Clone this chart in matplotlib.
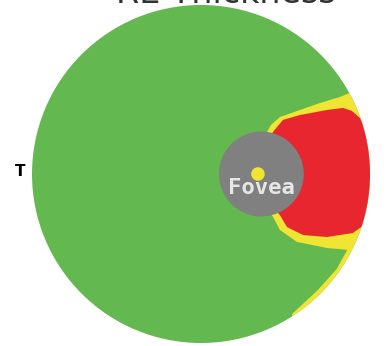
import numpy as np
import matplotlib
matplotlib.use("Agg")
import matplotlib.pyplot as plt
from matplotlib.patches import Circle, Polygon

# Map coordinates: scan circle has radius 1, centred on (0, 0)
scan_radius = 1.0
fovea_center = (0.357, 0.0)
fovea_radius = 0.251
fovea_dot = (0.337, 0.0)

# Thick zone (red) outline
red_x = [0.396, 0.426, 0.485, 0.586, 0.746, 0.840, 0.893, 0.941, 0.970, 1.012,
         1.2, 1.2,
         1.012, 0.982, 0.899, 0.746, 0.604, 0.509, 0.467, 0.408]
red_y = [0.201, 0.249, 0.320, 0.349, 0.379, 0.391, 0.373, 0.331, 0.272, 0.213,
         0.2, -0.25,
         -0.243, -0.290, -0.349, -0.373, -0.361, -0.314, -0.243, -0.183]

# Borderline zone (yellow) outline, including the thin rim at the lower right
yellow_x = [0.361, 0.391, 0.414, 0.467, 0.586, 0.704, 0.822, 0.893,
            1.0, 1.2, 1.2, 0.6,
            0.538, 0.689, 0.803, 0.869,
            0.882, 0.746, 0.568, 0.467, 0.426, 0.379]
yellow_y = [0.201, 0.249, 0.290, 0.337, 0.379, 0.420, 0.456, 0.485,
            0.6, 0.6, -1.2, -1.04,
            -0.829, -0.689, -0.562, -0.443,
            -0.450, -0.438, -0.402, -0.331, -0.254, -0.183]

green = "#63b84f"
yellow = "#efe532"
red = "#e8262f"
grey = "#808080"

fig = plt.figure(figsize=(3.86, 3.46), dpi=100)
ax = fig.add_axes([0, 0, 1, 1])
ax.set_xlim(-201 / 169, 185 / 169)
ax.set_ylim(-172 / 169, 174 / 169)
ax.axis("off")

disk = Circle((0, 0), scan_radius, facecolor=green, edgecolor="none")
ax.add_patch(disk)

yel = Polygon(np.column_stack([yellow_x, yellow_y]), closed=True,
              facecolor=yellow, edgecolor="none")
ax.add_patch(yel)
yel.set_clip_path(disk)

rd = Polygon(np.column_stack([red_x, red_y]), closed=True,
             facecolor=red, edgecolor="none")
ax.add_patch(rd)
rd.set_clip_path(disk)

ax.add_patch(Circle(fovea_center, fovea_radius, facecolor=grey, edgecolor="none"))
ax.add_patch(Circle(fovea_dot, 0.04, facecolor=yellow, edgecolor="none"))
ax.text(fovea_center[0], -0.085, "Fovea", color="#e6e6e6", fontsize=16,
        fontweight="bold", family="DejaVu Sans Mono", ha="center", va="center")

ax.text(-1.071, 0.012, "T", color="black", fontsize=11, fontweight="bold",
        ha="center", va="center")

# Title sits mostly above the top edge
ax.text(0.148, 1.014, "RE Thickness", color="#333333", fontsize=24,
        ha="center", va="baseline")

fig.savefig("out.png", dpi=100)
